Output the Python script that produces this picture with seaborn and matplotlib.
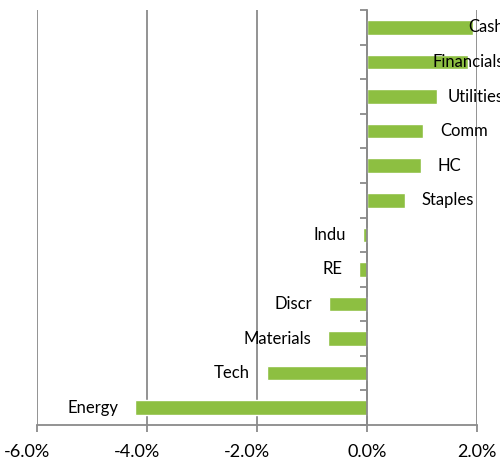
import numpy as np
import pandas as pd
import matplotlib
matplotlib.use('Agg')
import matplotlib.pyplot as plt
import matplotlib.transforms as mtransforms
import seaborn as sns
from matplotlib.ticker import FuncFormatter

# Sector relative returns (%), top to bottom as shown
sectors = ['Cash', 'Financials', 'Utilities', 'Comm', 'HC', 'Staples',
           'Indu', 'RE', 'Discr', 'Materials', 'Tech', 'Energy']
values = [1.93, 1.84, 1.27, 1.02, 0.98, 0.69,
          -0.08, -0.15, -0.69, -0.71, -1.82, -4.22]
x_ticks = [-6, -4, -2, 0, 2]

sns.set_theme(style='white')
plt.rcParams['font.family'] = ['Lato', 'DejaVu Sans']

bar_color = '#8DBF41'
grid_color = '#8A8A8A'

df = pd.DataFrame({'Sector': sectors, 'Value': values})

fig = plt.figure(figsize=(5.0, 4.62), dpi=100)
ax = fig.add_axes([0.074, 0.080, 0.880, 0.898])

sns.barplot(data=df, x='Value', y='Sector', order=sectors, orient='h',
            color=bar_color, width=0.42, saturation=1, ax=ax)

ax.set_xlim(-6, 2)
ax.set_ylim(len(sectors) - 0.5, -0.5)
ax.set_xlabel('')
ax.set_ylabel('')

# vertical gridlines
ax.set_xticks(x_ticks)
ax.xaxis.set_major_formatter(FuncFormatter(lambda v, p: f'{v:.1f}%'))
ax.grid(axis='x', color=grid_color, linewidth=1.3)
ax.set_axisbelow(True)

for s in ['top', 'right']:
    ax.spines[s].set_visible(False)
ax.spines['bottom'].set_color(grid_color)
ax.spines['bottom'].set_linewidth(1.3)
ax.spines['left'].set_position(('data', 0))
ax.spines['left'].set_color(grid_color)
ax.spines['left'].set_linewidth(1.3)

ax.tick_params(axis='x', direction='out', length=5, width=1.3, color=grid_color,
               pad=9, labelsize=13, labelcolor='black', bottom=True)
# category separators on the zero line
ax.set_yticks(np.arange(len(sectors) + 1) - 0.5)
ax.set_yticklabels([])
ax.tick_params(axis='y', direction='out', length=5, width=1.3, color=grid_color, left=True)

# negative tick labels sit a little left (number centred, minus hangs out)
shift_left = mtransforms.ScaledTranslation(-10 / 100, 0, fig.dpi_scale_trans)
for tv, lab in zip(x_ticks, ax.get_xticklabels()):
    if tv < 0:
        lab.set_transform(lab.get_transform() + shift_left)

# category labels next to bar ends
labels = []
for i, (name, v) in enumerate(zip(sectors, values)):
    if v >= 0:
        t = ax.annotate(name, xy=(v, i), xytext=(12, 0), textcoords='offset points',
                        ha='left', va='center', fontsize=12, color='black',
                        annotation_clip=False)
    else:
        t = ax.annotate(name, xy=(v, i), xytext=(-12, 0), textcoords='offset points',
                        ha='right', va='center', fontsize=12, color='black',
                        annotation_clip=False)
    labels.append((t, v))

# push labels that would run past the chart edge back to the left
fig.canvas.draw()
renderer = fig.canvas.get_renderer()
limit_px = 504
for t, v in labels:
    if v < 0:
        continue
    bb = t.get_window_extent(renderer)
    if bb.x1 > limit_px:
        shift = (bb.x1 - limit_px) * 72 / fig.dpi
        t.xyann = (12 - shift, 0)

fig.savefig('out.png', dpi=100)
